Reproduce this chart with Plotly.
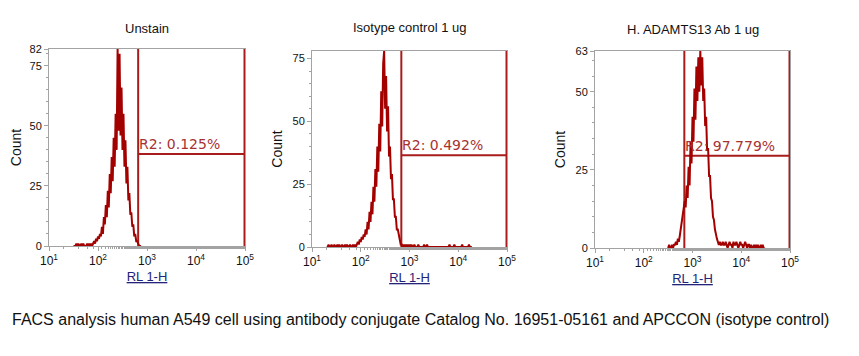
import numpy as np
import plotly.graph_objects as go

# ---------------- data ----------------
panel_titles = ["Unstain", "Isotype control 1 ug", "H. ADAMTS13 Ab 1 ug"]
gate_labels = ["R2: 0.125%", "R2: 0.492%", "R2: 97.779%"]
x_tick_vals = [1e1, 1e2, 1e3, 1e4, 1e5]
x_tick_text = ["10<sup>1</sup>", "10<sup>2</sup>", "10<sup>3</sup>", "10<sup>4</sup>", "10<sup>5</sup>"]
y_max = [82, 78, 63]
y_tick_vals = [[0, 25, 50, 75, 82], [0, 25, 50, 75], [0, 25, 50, 63]]

# histogram channel grid (log10 of RL1-H), start of each panel and bin width
hist_start_log = [1.50, 1.30, 2.50]
hist_step_log = 0.02

counts_unstain = [
    0, 0, 0, 1, 0, 1, 0, 0, 1, 0,
    1, 0, 0, 0, 1, 0, 1, 0, 1, 0,
    1, 2, 1, 3, 2, 4, 3, 5, 4, 8,
    5, 12, 9, 17, 12, 23, 16, 30, 22, 37,
    27, 45, 33, 55, 40, 82, 48, 80, 46, 66,
    40, 55, 33, 44, 26, 33, 19, 22, 13, 14,
    8, 9, 4, 5, 2, 2, 1, 0, 0, 0,
]
counts_isotype = [
    0, 0, 1, 0, 0, 1, 0, 0, 1, 0,
    0, 1, 0, 1, 0, 0, 1, 0, 0, 1,
    0, 1, 0, 0, 1, 0, 0, 1, 0, 1,
    0, 1, 2, 1, 3, 2, 4, 3, 5, 4,
    7, 5, 10, 7, 14, 10, 18, 13, 24, 18,
    31, 24, 40, 30, 49, 38, 62, 48, 73, 78,
    55, 68, 46, 56, 36, 40, 27, 29, 19, 19,
    12, 12, 7, 7, 4, 3, 1, 1, 0, 1,
    0, 1, 0, 1, 0, 1, 0, 1, 0, 0,
    1, 0, 0, 0, 1, 0, 0, 0, 0, 0,
    1, 0, 0, 1, 0, 0, 0, 0, 0, 0,
    0, 0, 0, 0, 0, 0, 0, 0, 0, 0,
    0, 0, 0, 0, 0, 0, 1, 0, 0, 0,
    0, 1, 0, 0, 0, 0, 0, 0, 0, 1,
    0, 0, 0, 0, 0, 0, 1, 0, 0, 0,
]
counts_adamts13 = [
    0, 1, 0, 0, 1, 0, 1, 1, 2, 1,
    3, 2, 4, 6, 8, 10, 12, 15, 13, 20,
    16, 26, 20, 34, 27, 42, 34, 51, 41, 58,
    47, 61, 50, 63, 52, 61, 47, 51, 39, 42,
    31, 32, 23, 23, 16, 15, 10, 9, 6, 4,
    3, 2, 1, 2, 1, 1, 2, 1, 1, 2,
    1, 0, 1, 2, 1, 1, 0, 2, 1, 1,
    2, 1, 0, 1, 2, 1, 1, 0, 1, 2,
    1, 0, 1, 1, 0, 1, 0, 0, 1, 0,
    1, 0, 1, 0, 0, 1, 0, 1, 0, 0,
]
all_counts = [counts_unstain, counts_isotype, counts_adamts13]

# R2 gate: lower / upper channel and marker level (count)
gate_low = [660, 680, 680]
gate_high = [97700, 97700, 97700]
gate_level = [38.3, 36.5, 29.5]

caption = ("FACS analysis human A549 cell using antibody conjugate Catalog No. "
           "16951-05161 and APCCON (isotype control)")

# ---------------- layout ----------------
OFF = 8                      # default page margin of the html body
W, H = 859 - OFF, 356 - OFF
def px(xp):
    return (xp - OFF) / W
def py(yp):
    return 1 - (yp - OFF) / H

# plot rectangles in page pixels: (left, right, top, bottom)
rects = [(49, 245, 49, 246), (312, 507, 51, 247), (595, 790, 51, 248)]
title_y = [28, 27, 30]

HIST_COLOR = "#a30000"
GATE_COLOR = "#a91c1c"
AXIS_GRAY = "#a3a3a3"

fig = go.Figure()
layout = dict(
    width=W, height=H,
    margin=dict(l=0, r=0, t=0, b=0),
    paper_bgcolor="white", plot_bgcolor="white",
    showlegend=False,
    font=dict(family="Liberation Sans, Arial, sans-serif", color="#111111"),
)
annotations = []
shapes = []

for i in range(3):
    l, r, t, b = rects[i]
    xs = "" if i == 0 else str(i + 1)
    xname, yname = "x" + xs, "y" + xs
    # gate lines (drawn below the histogram)
    for gx in (gate_low[i], gate_high[i]):
        shapes.append(dict(type="line", xref=xname, yref=yname + " domain",
                           x0=gx, x1=gx, y0=0, y1=1, layer="below",
                           line=dict(color=GATE_COLOR, width=2)))
    shapes.append(dict(type="line", xref=xname, yref=yname, layer="below",
                       x0=gate_low[i], x1=gate_high[i], y0=gate_level[i], y1=gate_level[i],
                       line=dict(color=GATE_COLOR, width=2)))
    counts = all_counts[i]
    chans = 10 ** (hist_start_log[i] + hist_step_log * np.arange(len(counts)))
    fig.add_trace(go.Scatter(
        x=chans, y=counts, mode="lines", xaxis=xname, yaxis=yname,
        line=dict(color=HIST_COLOR, width=2), hoverinfo="skip",
    ))
    layout["xaxis" + xs] = dict(
        domain=[px(l), px(r)], anchor=yname, type="log", range=[1, 5],
        showline=True, linecolor=AXIS_GRAY, linewidth=1, mirror=True,
        ticks="outside", ticklen=4, tickcolor=AXIS_GRAY,
        tickvals=x_tick_vals, ticktext=x_tick_text,
        tickfont=dict(size=12, color="#111111"),
        minor=dict(ticks="outside", ticklen=2, tickcolor=AXIS_GRAY, showgrid=False),
        showgrid=False, zeroline=False, automargin=False,
        title=dict(text="<u>RL 1-H</u>", font=dict(size=13, color="#23237a"), standoff=4),
    )
    layout["yaxis" + xs] = dict(
        domain=[py(b), py(t)], anchor=xname, range=[0, y_max[i]],
        showline=True, linecolor=AXIS_GRAY, linewidth=1, mirror=True,
        ticks="outside", ticklen=4, tickcolor=AXIS_GRAY,
        tickvals=y_tick_vals[i], tickfont=dict(size=11, color="#111111"),
        minor=dict(ticks="outside", ticklen=2, tickcolor=AXIS_GRAY, dtick=5, showgrid=False),
        showgrid=False, zeroline=False, automargin=False,
        title=dict(text="Count", font=dict(size=14, color="#111111"), standoff=6),
    )
    annotations.append(dict(
        text=gate_labels[i], xref=xname, yref=yname, x=np.log10(gate_low[i]), y=gate_level[i],
        xanchor="left", yanchor="bottom", showarrow=False, xshift=-1, yshift=0,
        font=dict(family="DejaVu Sans, Verdana, sans-serif", size=14, color="#a83232"),
    ))
    # panel title
    annotations.append(dict(
        text=panel_titles[i], xref="paper", yref="paper",
        x=px((l + r) / 2), y=py(title_y[i]), xanchor="center", yanchor="middle",
        showarrow=False, font=dict(size=13, color="#111111"),
    ))

annotations.append(dict(
    text=caption, xref="paper", yref="paper", x=px(10), y=py(319),
    xanchor="left", yanchor="middle", showarrow=False,
    font=dict(size=16, color="#111111"),
))

layout["annotations"] = annotations
layout["shapes"] = shapes
fig.update_layout(**layout)
fig.write_html("out.html")
